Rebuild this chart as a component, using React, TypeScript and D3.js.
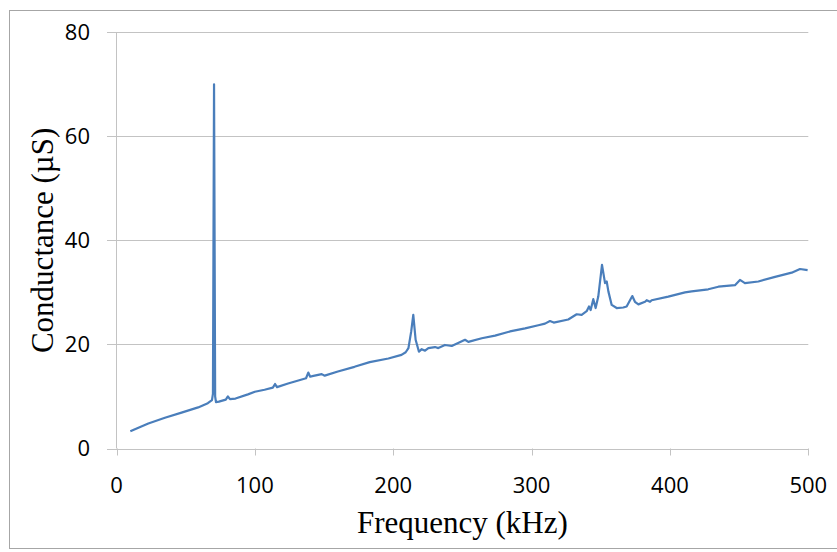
import React from "react";
import * as d3 from "d3";

const frequency: number[] = [
  10, 15, 23, 35, 47, 59, 66, 69, 69.7, 70.5, 71.3, 71.9, 74, 79, 80.5, 82, 86, 95, 100, 107,
  113, 114.6, 116, 124, 137, 138.6, 140, 141.5, 148.3, 150.5, 160, 172, 183, 196.5, 206, 209,
  211, 213, 214.5, 216.2, 218.6, 220.6, 223, 225.4, 230.2, 232.6, 237.4, 242.3, 251.9, 254.3,
  264, 273.6, 284.4, 295.3, 304.9, 309.7, 313.3, 316, 326.5, 332.6, 336.2, 339.8, 341.5, 342.7,
  344.6, 346.3, 348.2, 350.9, 353.1, 354.3, 355.5, 357.9, 361.5, 366.3, 368.7, 372.8, 374.7,
  377.2, 382, 383.2, 385.6, 386.8, 398.8, 410.9, 415.7, 427.7, 435, 447, 450.6, 454.2, 463.9,
  476, 488, 494, 499.5,
];
const conductance: number[] = [
  3.3, 3.9, 4.8, 5.9, 6.9, 7.9, 8.7, 9.3, 10.5, 70.0, 10.0, 8.9, 9.0, 9.4, 10.0, 9.5, 9.6, 10.4, 10.9, 11.3,
  11.7, 12.4, 11.8, 12.5, 13.5, 14.6, 13.8, 13.9, 14.3, 14.0, 14.8, 15.7, 16.6, 17.3, 18.0, 18.5,
  19.3, 22.5, 25.7, 20.9, 18.6, 19.1, 18.8, 19.3, 19.5, 19.3, 19.9, 19.7, 20.9, 20.5,
  21.2, 21.7, 22.5, 23.1, 23.7, 24.0, 24.5, 24.2, 24.8, 25.8, 25.7, 26.4, 27.3, 26.6,
  28.7, 27.0, 29.2, 35.3, 31.8, 32.1, 30.2, 27.6, 27.0, 27.1, 27.3, 29.3, 28.2,
  27.7, 28.2, 28.5, 28.2, 28.5, 29.2, 30.0, 30.2, 30.6, 31.1, 31.4, 32.4, 31.8, 32.1,
  33.0, 33.8, 34.5, 34.3,
];
const xTicks: number[] = [0, 100, 200, 300, 400, 500];
const yTicks: number[] = [0, 20, 40, 60, 80];
const xTitle = "Frequency (kHz)";
const yTitle = "Conductance (µS)";

export default function App() {
  const W = 837;
  const H = 552;
  const x = d3.scaleLinear().domain([0, 500]).range([116.5, 808.3]);
  const y = d3.scaleLinear().domain([0, 80]).range([448.5, 32.3]);
  const pts: [number, number][] = frequency.map((f, i) => [f, conductance[i]]);
  const line = d3
    .line<[number, number]>()
    .x((d) => x(d[0]))
    .y((d) => y(d[1]));
  const tickFont = "'Open Sans', 'Liberation Sans', sans-serif";
  const titleFont = "'Liberation Serif', 'Times New Roman', serif";
  return (
    <svg
      width={W}
      height={H}
      style={{ position: "absolute", left: 0, top: 0, background: "#fff" }}
    >
      <rect x={0} y={0} width={W} height={H} fill="#fff" />
      <rect x={9.5} y={10.5} width={840} height={538} fill="none" stroke="#a6a6a6" strokeWidth={1} />
      {yTicks.map((t) => (
        <line key={"g" + t} x1={107} x2={x(500)} y1={Math.round(y(t)) + 0.5} y2={Math.round(y(t)) + 0.5} stroke="#c3c3c3" strokeWidth={1} />
      ))}
      <line x1={116.5} x2={116.5} y1={y(80)} y2={y(0)} stroke="#c3c3c3" strokeWidth={1} />
      {xTicks.map((t) => (
        <line key={"xt" + t} x1={Math.round(x(t)) + 0.5} x2={Math.round(x(t)) + 0.5} y1={y(0)} y2={y(0) + 7} stroke="#c3c3c3" strokeWidth={1} />
      ))}
      <path d={line(pts) || ""} fill="none" stroke="#4a7ebb" strokeWidth={2.2} strokeLinejoin="round" />
      {yTicks.map((t) => (
        <text key={"yl" + t} x={90} y={y(t)} dy="0.36em" textAnchor="end" fontFamily={tickFont} fontSize={22} fill="#000">
          {t}
        </text>
      ))}
      {xTicks.map((t) => (
        <text key={"xl" + t} x={x(t)} y={493} textAnchor="middle" fontFamily={tickFont} fontSize={22} fill="#000">
          {t}
        </text>
      ))}
      <text x={(x(0) + x(500)) / 2} y={533} textAnchor="middle" fontFamily={titleFont} fontSize={31} fill="#000">
        {xTitle}
      </text>
      <text
        transform={`translate(53, ${(y(0) + y(80)) / 2}) rotate(-90)`}
        textAnchor="middle"
        fontFamily={titleFont}
        fontSize={31}
        fill="#000"
      >
        {yTitle}
      </text>
    </svg>
  );
}
